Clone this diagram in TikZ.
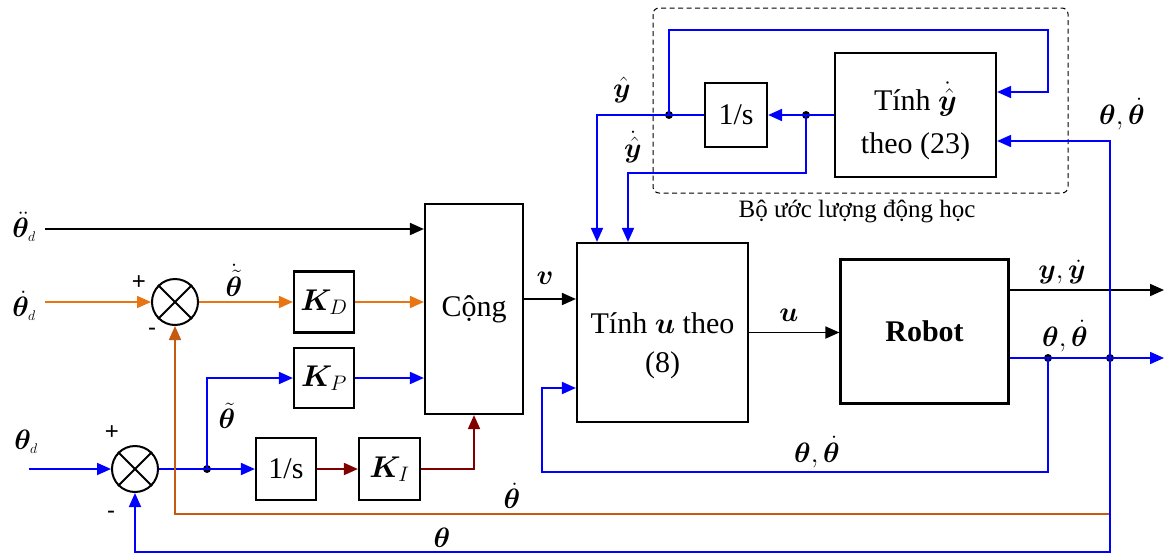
\RequirePackage{fix-cm}
\documentclass[tikz,border=0pt]{standalone}
\usepackage{fontspec}
\usepackage{bm}
\setmainfont{Liberation Serif}
\newfontfamily\plusfont{Liberation Sans}
\usetikzlibrary{arrows.meta}
\definecolor{cblue}{RGB}{0,0,255}
\definecolor{corange}{RGB}{232,117,17}
\definecolor{cbrown}{RGB}{197,90,17}
\definecolor{cdred}{RGB}{128,0,0}
\begin{document}
\begin{tikzpicture}[x=1pt,y=-1pt,
  box/.style={draw, line width=2.2pt, inner sep=0pt, font=\fontsize{30}{34}\selectfont, align=center},
  boxtext/.style={font=\fontsize{30}{34}\selectfont, align=center},
  sumj/.style={draw, circle, line width=2pt, minimum size=46pt, inner sep=0pt},
  ln/.style={line width=1.8pt},
  arr/.style={ln, -{Triangle[length=14pt,width=12pt]}},
  dot/.style={circle, fill=black, inner sep=0pt, minimum size=8pt},
  lbl/.style={font=\fontsize{28}{31}\selectfont, inner sep=0pt},
  sgn/.style={font=\plusfont\fontsize{24}{28}\selectfont, inner sep=0pt}]
\useasboundingbox (0,0) rectangle (1164,554);

% estimator frame
\draw[line width=1pt, dash pattern=on 5pt off 3.5pt, rounded corners=6pt] (653,8) rectangle (1068,193);
\node[font=\fontsize{25}{28}\selectfont] (cap) at (857,211) {Bộ ước lượng động học};

% blocks
\node[box, minimum width=161pt, minimum height=124pt,
  label={[boxtext, yshift=-6pt]center:Tính $\dot{\hat{\bm y}}$\\[9pt]theo (23)}] (dyn) at (915.5,115) {};
\node[box, minimum width=62pt, minimum height=64pt] (int1) at (736,115) {1/s};
\node[box, minimum width=171pt, minimum height=179pt,
  label={[boxtext, yshift=-13pt]center:Tính $\bm u$ theo\\[5pt](8)}] (tu) at (662.5,332.5) {};
\node[box, minimum width=168pt, minimum height=144pt, font=\fontsize{30}{34}\selectfont\bfseries] (robot) at (924.5,331.5) {Robot};
\node[box, minimum width=98pt, minimum height=210pt] (cong) at (474,309) {Cộng};
\node[box, minimum width=60pt, minimum height=61pt] (kd) at (324,302) {$\bm K_{D}$};
\node[box, minimum width=60pt, minimum height=60pt] (kp) at (324,378) {$\bm K_{P}$};
\node[box, minimum width=60pt, minimum height=62pt] (int2) at (286,469) {1/s};
\node[box, minimum width=61pt, minimum height=62pt] (ki) at (389.5,469) {$\bm K_{I}$};
\node[sumj] (s1) at (175,302) {};
\node[sumj] (s2) at (135,469) {};
\draw[line width=2pt] (s1.north west) -- (s1.south east) (s1.north east) -- (s1.south west);
\draw[line width=2pt] (s2.north west) -- (s2.south east) (s2.north east) -- (s2.south west);

% coordinates
\coordinate (a1) at (45,229);
\coordinate (a2) at (45,302);
\coordinate (a3) at (29,469);
\coordinate (vo) at ([yshift=10pt]cong.east);
\coordinate (yo) at ([yshift=41.5pt]robot.east);
\coordinate (yend) at (1164,290);
\coordinate (to) at ([yshift=-26.5pt]robot.east);
\coordinate (tend) at (1164,358);
\coordinate (fb1) at (542,472);
\coordinate (tuin) at ([yshift=-55.5pt]tu.west);
\coordinate (dynin1) at ([yshift=23pt]dyn.east);
\coordinate (dynin2) at ([yshift=-26pt]dyn.east);
\coordinate (bot) at (1110,552);
\coordinate (ob) at (1110,514);
\coordinate (tun1) at ([xshift=-65.5pt]tu.north);
\coordinate (tun2) at ([xshift=-34.5pt]tu.north);
\coordinate (c1) at (1048,30);
\coordinate (c2) at (628,173);

\node[dot] (d1) at (207,469) {};
\node[dot] (d2) at (1048,358) {};
\node[dot] (d3) at (1110,358) {};
\node[dot] (d4) at (806,115) {};
\node[dot] (d5) at (669,115) {};

% left side
\draw[arr] (a1) -- (a1 -| cong.west);
\draw[arr, corange] (a2) -- (s1.west);
\draw[arr, corange] (s1.east) -- (kd.west);
\draw[arr, corange] (kd.east) -- (kd.east -| cong.west);
\draw[arr, cblue] (a3) -- (s2.west);
\draw[arr, cblue] (s2.east) -- (int2.west);
\draw[arr, cblue] (d1.center) |- (kp.west);
\draw[arr, cblue] (kp.east) -- (kp.east -| cong.west);
\draw[arr, cdred] (int2.east) -- (ki.west);
\draw[arr, cdred] (ki.east) -| (cong.south);

% middle
\draw[arr] (vo) -- (vo -| tu.west);
\draw[arr] (tu.east) -- (tu.east -| robot.west);
\draw[arr] (yo) -- (yend);
\draw[arr, cblue] (to) -- (tend);
\draw[arr, cblue] (d2.center) |- (fb1) |- (tuin);
\draw[arr, cblue] (d3.center) |- (dynin2);
\draw[ln, cbrown, -{Triangle[length=14pt,width=12pt]}] (ob) -| (s1.south);
\draw[arr, cblue] (d3.center) -- (bot) -| (s2.south);

% estimator
\draw[arr, cblue] (dyn.west) -- (int1.east);
\draw[arr, cblue] (int1.west) -| (tun1);
\draw[arr, cblue] (d5.center) |- (c1) |- (dynin1);
\draw[arr, cblue] (d4.center) |- (c2) -- (tun2);

% labels
\node[lbl] (l1) at (24,227) {$\bm{\ddot\theta}_{\scriptscriptstyle d}$};
\node[lbl] (l2) at (24,306) {$\bm{\dot\theta}_{\scriptscriptstyle d}$};
\node[lbl] (l3) at (26,442) {$\bm{\theta}_{\scriptscriptstyle d}$};
\node[sgn] (p1) at (139,283) {+};
\node[sgn] (m1) at (152,332) {-};
\node[sgn] (p2) at (112,433) {+};
\node[sgn] (m2) at (111,515) {-};
\node[lbl] (l4) at (234,280) {$\dot{\tilde{\bm\theta}}$};
\node[lbl] (l5) at (227,416) {$\tilde{\bm\theta}$};
\node[lbl] (l6) at (545,278) {$\bm v$};
\node[lbl] (l7) at (789,315) {$\bm u$};
\node[lbl] (l8) at (622,90) {$\hat{\bm y}$};
\node[lbl] (l9) at (633,147) {$\dot{\hat{\bm y}}$};
\node[lbl] (l10) at (1122,114) {$\bm\theta,\dot{\bm\theta}$};
\node[lbl] (l11) at (1062,272) {$\bm y,\dot{\bm y}$};
\node[lbl] (l12) at (1065,336) {$\bm\theta,\dot{\bm\theta}$};
\node[lbl] (l13) at (817,452) {$\bm\theta,\dot{\bm\theta}$};
\node[lbl] (l14) at (512,496) {$\dot{\bm\theta}$};
\node[lbl] (l15) at (442,538) {$\bm\theta$};
\end{tikzpicture}
\end{document}
